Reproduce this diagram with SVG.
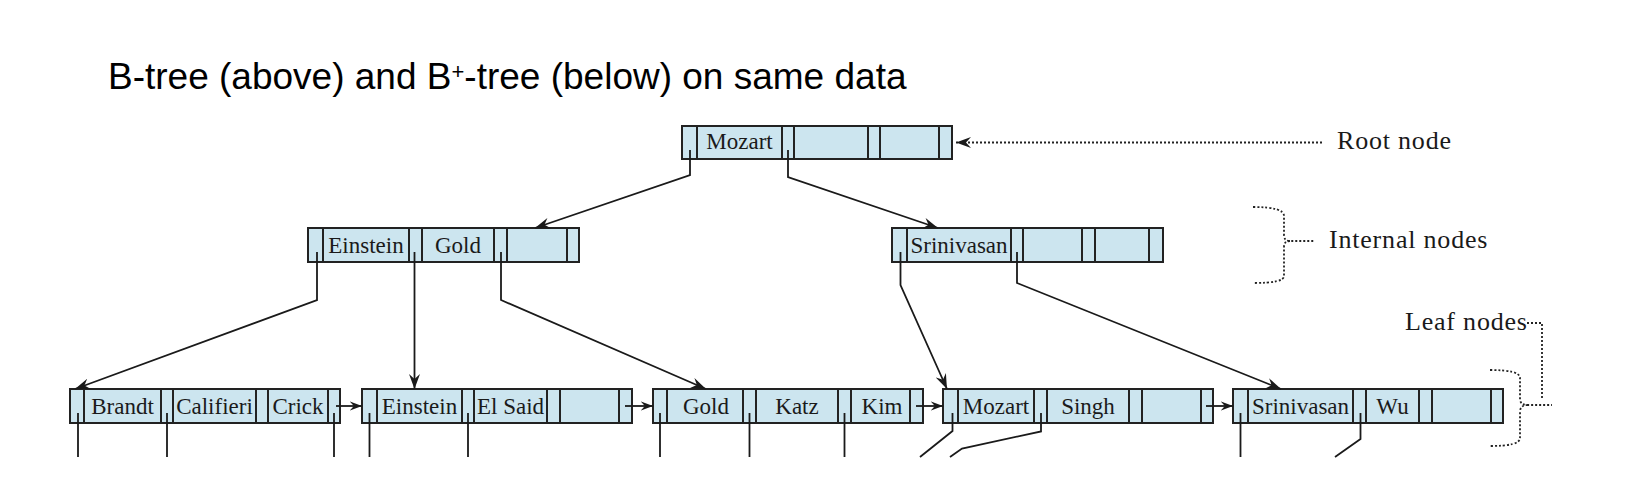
<svg xmlns="http://www.w3.org/2000/svg" width="1630" height="502" viewBox="0 0 1630 502">
<style>
.cell{fill:#cce5ef;stroke:#222;stroke-width:2}
.div{stroke:#222;stroke-width:2}
.key{font-family:"Liberation Serif","Times New Roman",serif;font-size:23px;fill:#1a1a1a;text-anchor:middle}
.lbl{font-family:"Liberation Serif","Times New Roman",serif;font-size:26px;letter-spacing:0.8px;fill:#1a1a1a}
.con{fill:none;stroke:#1a1a1a;stroke-width:1.8}
.dot{fill:none;stroke:#222;stroke-width:1.8;stroke-dasharray:2 2}
.title{font-family:"Liberation Sans",Arial,Helvetica,sans-serif;font-size:37px;fill:#000}
</style>
<defs>
<marker id="ah" viewBox="-15 -6 16 12" refX="0" refY="0" markerWidth="16" markerHeight="12" markerUnits="userSpaceOnUse" orient="auto">
<path d="M0,0 L-15,-5.5 L-10,0 L-15,5.5 Z" fill="#1a1a1a"/>
</marker>
<marker id="ahs" viewBox="-15 -6 16 12" refX="0" refY="0" markerWidth="13" markerHeight="10" markerUnits="userSpaceOnUse" orient="auto">
<path d="M0,0 L-15,-5.5 L-10,0 L-15,5.5 Z" fill="#1a1a1a"/>
</marker>
</defs>
<rect width="1630" height="502" fill="#fff"/>
<text class="title" x="108" y="89">B-tree (above) and B<tspan font-size="22" dy="-10">+</tspan><tspan dy="10">-tree (below) on same data</tspan></text>

<g id="node-root">
<rect class="cell" x="682" y="126" width="270" height="33"/>
<path class="div" d="M697,126V159M782,126V159M794,126V159M868,126V159M880,126V159M939,126V159"/>
<text class="key" x="739.5" y="149">Mozart</text>
</g>

<g id="node-internal-left">
<rect class="cell" x="308" y="228" width="271" height="34"/>
<path class="div" d="M323,228V262M409,228V262M422,228V262M494,228V262M507,228V262M567,228V262"/>
<text class="key" x="366" y="253">Einstein</text>
<text class="key" x="458" y="253">Gold</text>
</g>

<g id="node-internal-right">
<rect class="cell" x="892" y="228" width="271" height="34"/>
<path class="div" d="M907,228V262M1011,228V262M1023,228V262M1082,228V262M1095,228V262M1149,228V262"/>
<text class="key" x="959" y="253">Srinivasan</text>
</g>

<g id="leaf-1">
<rect class="cell" x="70" y="389" width="270" height="34"/>
<path class="div" d="M84,389V423M161,389V423M173,389V423M256,389V423M268,389V423M328,389V423"/>
<text class="key" x="122.5" y="414">Brandt</text>
<text class="key" x="214.5" y="414">Califieri</text>
<text class="key" x="298" y="414">Crick</text>
</g>

<g id="leaf-2">
<rect class="cell" x="362" y="389" width="270" height="34"/>
<path class="div" d="M377,389V423M462,389V423M474,389V423M547,389V423M560,389V423M619,389V423"/>
<text class="key" x="419.5" y="414">Einstein</text>
<text class="key" x="510.5" y="414">El Said</text>
</g>

<g id="leaf-3">
<rect class="cell" x="653" y="389" width="270" height="34"/>
<path class="div" d="M667,389V423M743,389V423M756,389V423M838,389V423M851,389V423M910,389V423"/>
<text class="key" x="706" y="414">Gold</text>
<text class="key" x="797" y="414">Katz</text>
<text class="key" x="882" y="414">Kim</text>
</g>

<g id="leaf-4">
<rect class="cell" x="943" y="389" width="270" height="34"/>
<path class="div" d="M958,389V423M1034,389V423M1047,389V423M1129,389V423M1142,389V423M1201,389V423"/>
<text class="key" x="996" y="414">Mozart</text>
<text class="key" x="1088" y="414">Singh</text>
</g>

<g id="leaf-5">
<rect class="cell" x="1233" y="389" width="270" height="34"/>
<path class="div" d="M1248,389V423M1353,389V423M1366,389V423M1419,389V423M1432,389V423M1491,389V423"/>
<text class="key" x="1300.5" y="414">Srinivasan</text>
<text class="key" x="1392.5" y="414">Wu</text>
</g>

<g id="connectors">
<path class="con" d="M690,150V175L535,228" marker-end="url(#ah)"/>
<path class="con" d="M788,150V177L938,228" marker-end="url(#ah)"/>
<path class="con" d="M317,252V300L75,389" marker-end="url(#ah)"/>
<path class="con" d="M414.5,252V389" marker-end="url(#ah)"/>
<path class="con" d="M501,252V300L706,389" marker-end="url(#ah)"/>
<path class="con" d="M900.5,252V285L947,389" marker-end="url(#ah)"/>
<path class="con" d="M1017,252V283L1281,389" marker-end="url(#ah)"/>
<path class="con" d="M336,406H362" marker-end="url(#ahs)"/>
<path class="con" d="M625,406H653" marker-end="url(#ahs)"/>
<path class="con" d="M916,406H943" marker-end="url(#ahs)"/>
<path class="con" d="M1206,406H1233" marker-end="url(#ahs)"/>
<path class="con" d="M78,413V457M167,413V457M334,413V457"/>
<path class="con" d="M369.5,413V457M468,413V457"/>
<path class="con" d="M660,413V457M749.5,413V457M844.5,413V457"/>
<path class="con" d="M952.5,413V431L920,457M1041,413V431.5L962,448.5L950,457"/>
<path class="con" d="M1240.5,413V457M1360.5,413V439L1335,457"/>
</g>

<g id="label-root">
<path class="dot" d="M1322,142.5H956" marker-end="url(#ah)"/>
<text class="lbl" x="1337" y="149">Root node</text>
</g>

<g id="label-internal">
<path class="dot" d="M1253,207Q1284,207 1284,216V235Q1284,241 1290,241H1315M1290,241Q1284,241 1284,247V276Q1284,283 1253,283"/>
<text class="lbl" x="1329" y="248">Internal nodes</text>
</g>

<g id="label-leaf">
<text class="lbl" x="1405" y="330">Leaf nodes</text>
<path class="dot" d="M1527,323H1542V398"/>
<path class="dot" d="M1490,370Q1520,370 1520,378V399Q1520,405 1528,405H1552M1528,405Q1520,405 1520,412V438Q1520,446 1490,446"/>
</g>
</svg>
